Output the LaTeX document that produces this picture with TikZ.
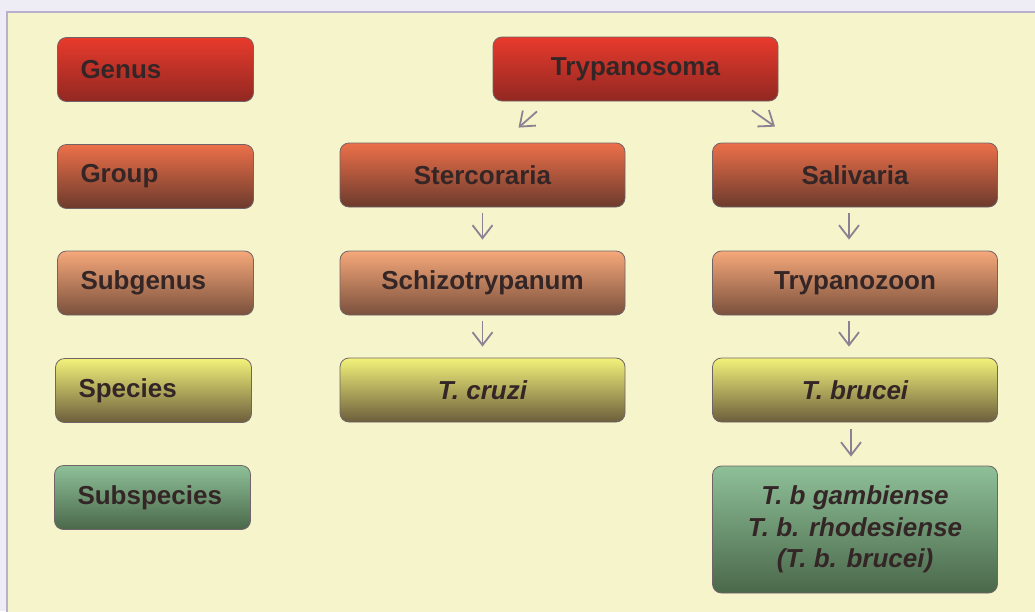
\documentclass[tikz,border=0pt]{standalone}
\usepackage{fontspec}
\setmainfont{Liberation Sans}
\usetikzlibrary{arrows.meta,calc}
\definecolor{outerc}{RGB}{238,237,246}
\definecolor{bgc}{RGB}{246,244,202}
\definecolor{framec}{RGB}{184,176,204}
\definecolor{boxline}{RGB}{112,100,104}
\definecolor{txt}{RGB}{52,38,38}
\definecolor{arrc}{RGB}{138,130,146}
\definecolor{rT}{RGB}{232,58,44}\definecolor{rM}{RGB}{208,46,36}\definecolor{rB}{RGB}{145,40,34}
\definecolor{oT}{RGB}{236,112,74}\definecolor{oM}{RGB}{196,96,64}\definecolor{oB}{RGB}{108,58,44}
\definecolor{sT}{RGB}{246,168,122}\definecolor{sM}{RGB}{208,134,92}\definecolor{sB}{RGB}{122,80,60}
\definecolor{yT}{RGB}{242,242,122}\definecolor{yM}{RGB}{192,182,96}\definecolor{yB}{RGB}{108,94,60}
\definecolor{gT}{RGB}{142,192,152}\definecolor{gM}{RGB}{112,158,118}\definecolor{gB}{RGB}{74,104,74}
\begin{document}
\begin{tikzpicture}[x=1pt,y=-1pt,
  box/.style={draw=boxline, line width=0.8pt, rounded corners=9pt,
    minimum width=285pt, minimum height=64pt, inner sep=0pt, text=txt,
    font=\fontsize{26}{31.5}\selectfont\bfseries},
  lab/.style={box, minimum width=196pt, text width=150pt, align=left},
  shr/.style={top color=rT, middle color=rM, bottom color=rB},
  sho/.style={top color=oT, middle color=oM, bottom color=oB},
  shs/.style={top color=sT, middle color=sM, bottom color=sB},
  shy/.style={top color=yT, middle color=yM, bottom color=yB},
  shg/.style={top color=gT, middle color=gM, bottom color=gB},
  arr/.style={draw=arrc, line width=1.8pt, -{Straight Barb[length=13pt,width=20pt]}}]
\useasboundingbox (0,0) rectangle (1035,611);
\clip (0,0) rectangle (1035,611);
\fill[outerc] (0,0) rectangle (1035,611);
\filldraw[fill=bgc, draw=framec, line width=2pt] (7,12) rectangle (1050,630);

% left labels
\node[lab, shr] (genus) at (155.5,69.5) {Genus};
\node[lab, sho] (group) at (155.5,176.5) {Group};
\node[lab, shs] (subgenus) at (155.5,283) {Subgenus};
\node[lab, shy] (species) at (153.5,390.5) {Species};
\node[lab, shg] (subspecies) at (152.5,497.5) {Subspecies};

% tree
\node[box, shr] (trypanosoma) at (635.5,69) {Trypanosoma};
\node[box, sho] (stercoraria) at (482.5,175) {Stercoraria};
\node[box, sho] (salivaria) at (855,175) {Salivaria};
\node[box, shs] (schizo) at (482.5,283) {Schizotrypanum};
\node[box, shs] (trypanozoon) at (855,283) {Trypanozoon};
\node[box, shy] (cruzi) at (482.5,390) {\itshape T. cruzi};
\node[box, shy] (brucei) at (855,390) {\itshape T. brucei};
\node[box, shg, minimum height=127pt, align=center] (subsp) at (855,529.5)
  {\itshape T. b gambiense\\ \itshape T. b. rhodesiense\\ \itshape (T. b. brucei)};

% arrows
\draw[arr] ([shift={(-98.5pt,-10pt)}]trypanosoma.south) -- ([shift={(36pt,15pt)}]stercoraria.north);
\draw[arr] ([shift={(116.5pt,-9pt)}]trypanosoma.south) -- ([shift={(-80pt,16pt)}]salivaria.north);
\draw[arr, shorten <=6pt, shorten >=11pt] (stercoraria.south) -- (schizo.north);
\draw[arr, shorten <=6pt, shorten >=11pt] ([xshift=-6pt]salivaria.south) -- ([xshift=-6pt]trypanozoon.north);
\draw[arr, shorten <=6pt, shorten >=11pt] (schizo.south) -- (cruzi.north);
\draw[arr, shorten <=6pt, shorten >=11pt] ([xshift=-6pt]trypanozoon.south) -- ([xshift=-6pt]brucei.north);
\draw[arr, shorten <=7pt, shorten >=9pt] ([xshift=-4pt]brucei.south) -- ([xshift=-4pt]subsp.north);
\end{tikzpicture}
\end{document}
